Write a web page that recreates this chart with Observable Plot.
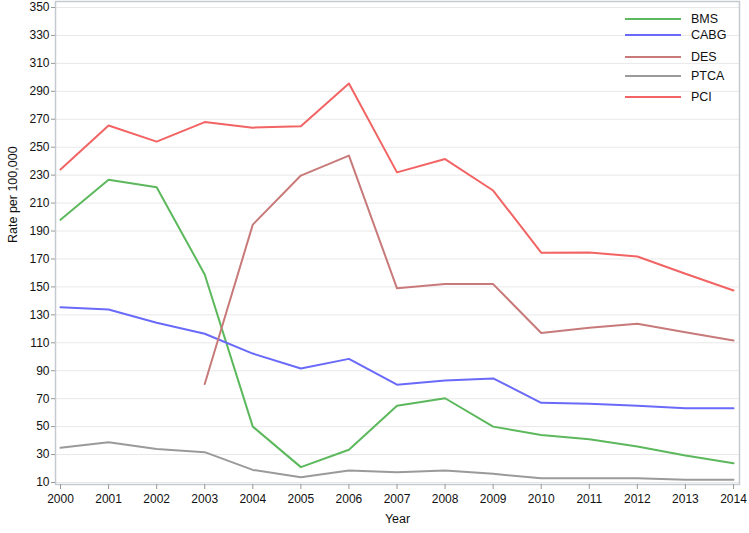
<!DOCTYPE html>
<html><head><meta charset="utf-8">
<script src="https://cdn.jsdelivr.net/npm/d3@7"></script>
<script src="https://cdn.jsdelivr.net/npm/@observablehq/plot@0.6"></script>
<style>
body{margin:0;background:#fff;font-family:"Liberation Sans",Arial,sans-serif}
#wrap{position:relative;width:749px;height:533px}
.leg{position:absolute;left:625px;height:16px;font-size:12.5px;color:#111;display:flex;align-items:center}
.leg span.sw{display:inline-block;width:56px;height:0;border-top:2px solid;margin-right:10px}
</style></head><body><div id="wrap"></div><script>
const years = [2000,2001,2002,2003,2004,2005,2006,2007,2008,2009,2010,2011,2012,2013,2014];
const bms  = [198,226.7,221.4,158.9,50,21,33.4,65,70.3,50,44,41,35.8,29.3,23.8];
const cabg = [135.5,133.8,124.3,116.5,102.3,91.6,98.5,80,83,84.5,67,66.3,65,63.2,63.2];
const des  = [null,null,null,80.5,194.6,229.7,244,149,152,152,117,120.7,123.6,117.6,111.6];
const ptca = [34.8,38.8,34,31.7,19,13.8,18.6,17.4,18.6,16.2,13,13,13,12,12];
const pci  = [234,265.5,254,268,264,265,295.6,232,241.5,219,174.5,174.6,171.8,159.4,147.4];
const seriesNames = ["BMS","CABG","DES","PTCA","PCI"];
const seriesColors = ["#5cb85c","#6a6afa","#c87a7a","#9a9a9a","#f26464"];
const yTicks = [10,30,50,70,90,110,130,150,170,190,210,230,250,270,290,310,330,350];

const seriesValues = [bms,cabg,des,ptca,pci];
const table = [];
seriesNames.forEach((name,i)=>{
  years.forEach((yr,j)=>{
    const v = seriesValues[i][j];
    if (v != null) table.push({series:name, year:yr, value:v});
  });
});

const chart = Plot.plot({
  width:749, height:533,
  marginLeft:55, marginRight:10, marginTop:1, marginBottom:49,
  x:{domain:[2000,2014], insetLeft:5, insetRight:6},
  y:{domain:[10,350], insetTop:6, insetBottom:2},
  color:{domain:seriesNames, range:seriesColors},
  style:{fontFamily:"'Liberation Sans', Arial, sans-serif", fontSize:"12px", color:"#111", background:"#fff"},
  marks:[
    Plot.gridY(yTicks,{stroke:"#e8e8e8", strokeOpacity:1}),
    Plot.frame({stroke:"#c5c9d2", strokeWidth:1.5}),
    Plot.lineY(table,{x:"year", y:"value", stroke:"series", strokeWidth:2}),
    Plot.axisY(yTicks,{tickSize:4, tickPadding:2, label:null, stroke:"#999"}),
    Plot.axisX(years,{tickSize:5, tickPadding:5, label:null, tickFormat:d=>String(d), stroke:"#999"}),
    Plot.text(["Rate per 100,000"],{frameAnchor:"left", dx:-43, rotate:-90, fontSize:12.5, fill:"#111"}),
    Plot.text(["Year"],{frameAnchor:"bottom", dy:38, fontSize:12.5, fill:"#111"})
  ]
});
const wrap = document.getElementById("wrap");
wrap.appendChild(chart);

const legendY = [19,35,57,76,97];
seriesNames.forEach((name,i)=>{
  const d = document.createElement("div");
  d.className = "leg";
  d.style.top = (legendY[i]-8) + "px";
  d.innerHTML = `<span class="sw" style="border-color:${seriesColors[i]}"></span>${name}`;
  wrap.appendChild(d);
});
</script></body></html>
